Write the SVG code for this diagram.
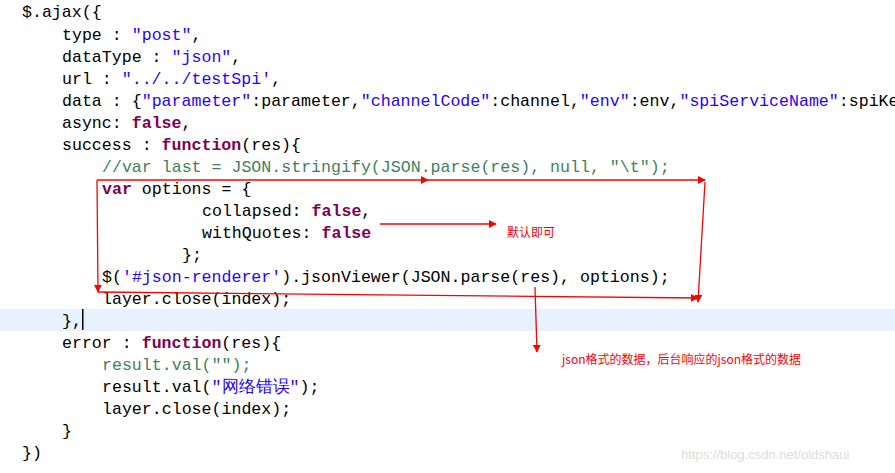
<svg xmlns="http://www.w3.org/2000/svg" width="895" height="473" viewBox="0 0 895 473">
<defs>
<style>
.c{font-family:"Liberation Mono","DejaVu Sans Mono",monospace;font-size:16.6px;fill:#000;white-space:pre}
.k{fill:#7f0055;font-weight:bold}
.s{fill:#2a00ff}
.g{fill:#3f7f5f}
.r{stroke:#f00;stroke-width:1.3;fill:none}
.t{font-family:"Noto Sans CJK SC",sans-serif;fill:#f00}
</style>
<marker id="a" viewBox="0 0 10 10" refX="9" refY="5" markerWidth="8" markerHeight="8" orient="auto" markerUnits="userSpaceOnUse"><path d="M0,0L10,5L0,10z" fill="#f00"/></marker>
</defs>
<rect width="895" height="473" fill="#fff"/>
<rect x="0" y="309" width="895" height="22" fill="#e8f2fe"/>
<rect x="82" y="309" width="1.5" height="21" fill="#000"/>
<g id="code">
<text class="c" x="22" y="17">$.ajax({</text>
<text class="c" x="62" y="40">type : <tspan class="s">"post"</tspan>,</text>
<text class="c" x="62" y="62">dataType : <tspan class="s">"json"</tspan>,</text>
<text class="c" x="62" y="84">url : <tspan class="s">"../../testSpi'</tspan>,</text>
<text class="c" x="62" y="106">data : {<tspan class="s">"parameter"</tspan>:parameter,<tspan class="s">"channelCode"</tspan>:channel,<tspan class="s">"env"</tspan>:env,<tspan class="s">"spiServiceName"</tspan>:spiKe</text>
<text class="c" x="62" y="128">async: <tspan class="k">false</tspan>,</text>
<text class="c" x="62" y="150">success : <tspan class="k">function</tspan>(res){</text>
<text class="c g" x="102" y="172">//var last = JSON.stringify(JSON.parse(res), null, "\t");</text>
<text class="c" x="102" y="194"><tspan class="k">var</tspan> options = {</text>
<text class="c" x="202" y="216">collapsed: <tspan class="k">false</tspan>,</text>
<text class="c" x="202" y="238">withQuotes: <tspan class="k">false</tspan></text>
<text class="c" x="182" y="260">};</text>
<text class="c" x="102" y="282">$(<tspan class="s">'#json-renderer'</tspan>).jsonViewer(JSON.parse(res), options);</text>
<text class="c" x="102" y="304">layer.close(index);</text>
<text class="c" x="62" y="326">},</text>
<text class="c" x="62" y="348">error : <tspan class="k">function</tspan>(res){</text>
<text class="c g" x="102" y="370">result.val("");</text>
<text class="c" x="102" y="392">result.val(<tspan class="s">"网络错误"</tspan>);</text>
<text class="c" x="102" y="414">layer.close(index);</text>
<text class="c" x="62" y="436">}</text>
<text class="c" x="22" y="458">})</text>
</g>
<g id="connectors">
<path class="r" d="M97,180 L428,180" marker-end="url(#a)"/>
<path class="r" d="M428,180 L705,180" marker-end="url(#a)"/>
<path class="r" d="M97,180 L98,292" marker-end="url(#a)"/>
<path class="r" d="M98,292 L698,298" marker-end="url(#a)"/>
<path class="r" d="M705,182 L698,302" marker-end="url(#a)"/>
<path class="r" d="M380,224 L496,224" marker-end="url(#a)"/>
<path class="r" d="M535,287 L537,352" marker-end="url(#a)"/>
</g>
<g id="notes">
<text class="t" x="507" y="237" font-size="12">默认即可</text>
<text class="t" x="562" y="364" font-size="12">json格式的数据，后台响应的json格式的数据</text>
</g>
<text x="681" y="459" font-family="Liberation Sans,sans-serif" font-size="13" fill="#ddd">https://blog.csdn.net/oldshaui</text>
</svg>
